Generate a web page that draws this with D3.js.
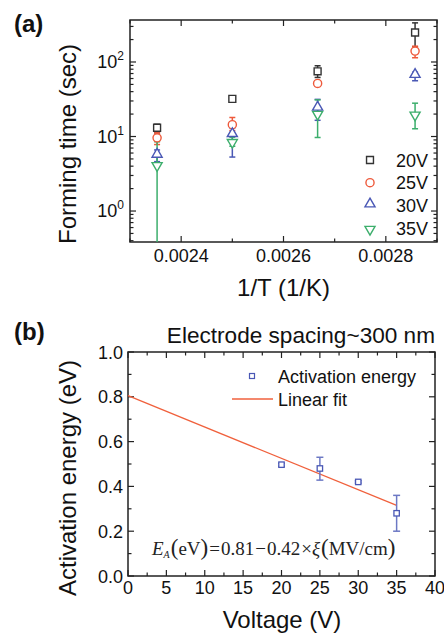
<!DOCTYPE html>
<html><head><meta charset="utf-8">
<script src="https://cdn.jsdelivr.net/npm/d3@7"></script>
<style>body{margin:0;background:#fff}svg{display:block}text{font-family:"Liberation Sans",Arial,sans-serif}</style>
</head><body><svg id="c" width="444" height="635"></svg>
<script>
// ---------- Panel (a) data ----------
const invT = [1/425, 1/400, 1/375, 1/350];
const seriesNames = ["20V", "25V", "30V", "35V"];
const t20 = [13.1, 32, 75, 249];
const t20lo = [11.2, 30, 62, 160];
const t20hi = [14.6, 33.5, 89, 335];
const t25 = [9.6, 14.4, 51.5, 140];
const t25lo = [7.8, 12, 47, 114];
const t25hi = [11.2, 18, 56, 163];
const t30 = [5.6, 10.6, 24, 66];
const t30lo = [4.6, 5.3, 16.5, 56];
const t30hi = [6.6, 13, 31.5, 73];
const t35 = [4.2, 8.6, 20.5, 20];
const t35lo = [0.01, 7.4, 9.7, 12.7];
const t35hi = [8.5, 9.8, 31, 28];
const xTicksA = [0.0024, 0.0026, 0.0028];
const xMinorA = [0.0023, 0.0025, 0.0027, 0.0029];
const yTicksA = [1, 10, 100];
const yTickExpA = ["0", "1", "2"];

// ---------- Panel (b) data ----------
const voltage = [20, 25, 30, 35];
const energy = [0.497, 0.48, 0.42, 0.28];
const energyLo = [0.49, 0.428, 0.415, 0.20];
const energyHi = [0.503, 0.53, 0.425, 0.36];
const fitV = [0, 35];
const fitE = [0.805, 0.315];
const xTicksB = [0, 5, 10, 15, 20, 25, 30, 35, 40];
const yTicksB = [0.0, 0.2, 0.4, 0.6, 0.8, 1.0];

const colors = ["#333333", "#ee5a3c", "#4a58b5", "#3cae6c"];
const svg = d3.select("#c");
const frameCol = "#222";

// ================= Panel (a) =================
const A = {l:130, r:437, t:20, b:242};
const xA = d3.scaleLinear().domain([0.0023, 0.0029]).range([A.l, A.r]);
const yA = d3.scaleLog().domain([0.384, 366]).range([A.b, A.t]);

const gA = svg.append("g");
svg.append("clipPath").attr("id","clipA").append("rect")
  .attr("x",A.l).attr("y",A.t).attr("width",A.r-A.l).attr("height",A.b-A.t);

function tickLinesX(g, scale, vals, len, top, bottom){
  vals.forEach(v=>{
    g.append("line").attr("x1",scale(v)).attr("x2",scale(v)).attr("y1",bottom).attr("y2",bottom-len).attr("stroke",frameCol).attr("stroke-width",1.2);
    g.append("line").attr("x1",scale(v)).attr("x2",scale(v)).attr("y1",top).attr("y2",top+len).attr("stroke",frameCol).attr("stroke-width",1.2);
  });
}
function tickLinesY(g, scale, vals, len, left, right){
  vals.forEach(v=>{
    g.append("line").attr("y1",scale(v)).attr("y2",scale(v)).attr("x1",left).attr("x2",left+len).attr("stroke",frameCol).attr("stroke-width",1.2);
    g.append("line").attr("y1",scale(v)).attr("y2",scale(v)).attr("x1",right).attr("x2",right-len).attr("stroke",frameCol).attr("stroke-width",1.2);
  });
}
tickLinesX(gA, xA, xTicksA, 6, A.t, A.b);
tickLinesX(gA, xA, xMinorA, 3.5, A.t, A.b);
tickLinesY(gA, yA, yTicksA, 6, A.l, A.r);
const minorA = [];
[0.1,1,10,100].forEach(d=>{for(let k=2;k<=9;k++){const v=d*k; if(v>0.384&&v<366) minorA.push(v);}});
tickLinesY(gA, yA, minorA, 3.5, A.l, A.r);

gA.append("rect").attr("x",A.l).attr("y",A.t).attr("width",A.r-A.l).attr("height",A.b-A.t)
  .attr("fill","none").attr("stroke",frameCol).attr("stroke-width",1.5);

xTicksA.forEach(v=>{
  gA.append("text").attr("x",xA(v)).attr("y",262).attr("text-anchor","middle").attr("font-size",18).attr("fill","#111").text(d3.format(".4f")(v));
});
yTicksA.forEach((v,i)=>{
  const t = gA.append("text").attr("x",124).attr("y",yA(v)+6).attr("text-anchor","end").attr("font-size",18).attr("fill","#111");
  t.append("tspan").text("10");
  t.append("tspan").attr("dy",-8).attr("font-size",12).text(yTickExpA[i]);
});
gA.append("text").attr("x",(A.l+A.r)/2).attr("y",296).attr("text-anchor","middle").attr("font-size",24).attr("fill","#111").text("1/T (1/K)");
gA.append("text").attr("transform",`translate(76,${(A.t+A.b)/2+13}) rotate(-90)`).attr("text-anchor","middle").attr("font-size",24).attr("fill","#111").text("Forming time (sec)");
svg.append("text").attr("x",14).attr("y",32).attr("font-size",24).attr("font-weight","bold").attr("fill","#111").text("(a)");

const sym = [d3.symbolSquare, d3.symbolCircle, d3.symbolTriangle, d3.symbolTriangle];
const symSize = [48, 52, 44, 44];
function marker(g, i, x, y){
  const p = g.append("path").attr("d", d3.symbol().type(sym[i]).size(symSize[i])())
    .attr("fill","#fff").attr("stroke",colors[i]).attr("stroke-width",1.4);
  let tr = `translate(${x},${y})`;
  if(i===2) tr += " translate(0,-1)";
  if(i===3) tr += " translate(0,1) rotate(180)";
  p.attr("transform",tr);
}
const seriesA = [[t20,t20lo,t20hi],[t25,t25lo,t25hi],[t30,t30lo,t30hi],[t35,t35lo,t35hi]];
const dataG = gA.append("g").attr("clip-path","url(#clipA)");
seriesA.forEach((s,i)=>{
  s[0].forEach((v,j)=>{
    const x = xA(invT[j]);
    dataG.append("line").attr("x1",x).attr("x2",x).attr("y1",yA(s[1][j])).attr("y2",yA(s[2][j])).attr("stroke",colors[i]).attr("stroke-width",1.5);
    [s[1][j], s[2][j]].forEach(e=>{
      dataG.append("line").attr("x1",x-3).attr("x2",x+3).attr("y1",yA(e)).attr("y2",yA(e)).attr("stroke",colors[i]).attr("stroke-width",1.5);
    });
  });
});
seriesA.forEach((s,i)=>{
  s[0].forEach((v,j)=>marker(dataG, i, xA(invT[j]), yA(v)));
});
const legY = [160, 182.7, 205, 228.3];
seriesNames.forEach((n,i)=>{
  marker(gA, i, 370, legY[i]);
  gA.append("text").attr("x",396).attr("y",legY[i]+6.5).attr("font-size",18).attr("fill","#111").text(n);
});

// ================= Panel (b) =================
const B = {l:128, r:435, t:352, b:576};
const xB = d3.scaleLinear().domain([0, 40]).range([B.l, B.r]);
const yB = d3.scaleLinear().domain([0, 1]).range([B.b, B.t]);
const gB = svg.append("g");
tickLinesX(gB, xB, xTicksB, 6, B.t, B.b);
tickLinesX(gB, xB, d3.range(2.5, 40, 5), 3.5, B.t, B.b);
tickLinesY(gB, yB, yTicksB, 6, B.l, B.r);
tickLinesY(gB, yB, d3.range(0.1, 1, 0.2), 3.5, B.l, B.r);
gB.append("rect").attr("x",B.l).attr("y",B.t).attr("width",B.r-B.l).attr("height",B.b-B.t)
  .attr("fill","none").attr("stroke",frameCol).attr("stroke-width",1.5);
xTicksB.forEach(v=>{
  gB.append("text").attr("x",xB(v)).attr("y",594).attr("text-anchor","middle").attr("font-size",18).attr("fill","#111").text(v);
});
yTicksB.forEach(v=>{
  gB.append("text").attr("x",123).attr("y",yB(v)+6.5).attr("text-anchor","end").attr("font-size",18).attr("fill","#111").text(d3.format(".1f")(v));
});
gB.append("text").attr("x",282).attr("y",628).attr("text-anchor","middle").attr("font-size",24).attr("fill","#111").text("Voltage (V)");
gB.append("text").attr("transform",`translate(76,${(B.t+B.b)/2+14}) rotate(-90)`).attr("text-anchor","middle").attr("font-size",24).attr("fill","#111").text("Activation energy (eV)");
gB.append("text").attr("x",435).attr("y",343).attr("text-anchor","end").attr("font-size",22.6).attr("fill","#111").text("Electrode spacing~300 nm");
svg.append("text").attr("x",14).attr("y",340).attr("font-size",24).attr("font-weight","bold").attr("fill","#111").text("(b)");

gB.append("path").datum(fitV.map((v,i)=>[v,fitE[i]]))
  .attr("d", d3.line().x(d=>xB(d[0])).y(d=>yB(d[1])))
  .attr("fill","none").attr("stroke","#f0603c").attr("stroke-width",1.3);
const blue = "#4a58b5";
voltage.forEach((v,i)=>{
  const x = xB(v);
  gB.append("line").attr("x1",x).attr("x2",x).attr("y1",yB(energyLo[i])).attr("y2",yB(energyHi[i])).attr("stroke","#6c78c4").attr("stroke-width",1.5);
  [energyLo[i], energyHi[i]].forEach(e=>{
    gB.append("line").attr("x1",x-3.5).attr("x2",x+3.5).attr("y1",yB(e)).attr("y2",yB(e)).attr("stroke","#6c78c4").attr("stroke-width",1.5);
  });
  gB.append("rect").attr("x",x-2.7).attr("y",yB(energy[i])-2.7).attr("width",5.4).attr("height",5.4)
    .attr("fill","#fff").attr("stroke",blue).attr("stroke-width",1.3);
});
gB.append("rect").attr("x",252-2.5).attr("y",376-2.5).attr("width",5).attr("height",5).attr("fill","#fff").attr("stroke",blue).attr("stroke-width",1.2);
gB.append("text").attr("x",278).attr("y",383).attr("font-size",18).attr("fill","#111").text("Activation energy");
gB.append("line").attr("x1",232).attr("x2",273).attr("y1",399).attr("y2",399).attr("stroke","#f0603c").attr("stroke-width",1.3);
gB.append("text").attr("x",278).attr("y",405.5).attr("font-size",18).attr("fill","#111").text("Linear fit");

// equation
const eq = gB.append("text").attr("x",152).attr("y",555).attr("font-size",19).attr("fill","#222")
  .style("font-family","'Liberation Serif','Times New Roman',serif");
eq.append("tspan").attr("font-style","italic").text("E");
eq.append("tspan").attr("font-style","italic").attr("font-size",10).attr("dy",3).text("A");
eq.append("tspan").attr("dy",-3).attr("font-size",23).attr("dx",1).text("(");
eq.append("tspan").text("eV");
eq.append("tspan").attr("font-size",23).text(")");
eq.append("tspan").attr("dx",1).text("=");
eq.append("tspan").attr("dx",1).text("0.81");
eq.append("tspan").attr("dx",1).text("\u2212");
eq.append("tspan").attr("dx",1).text("0.42");
eq.append("tspan").attr("dx",1).text("\u00d7");
eq.append("tspan").attr("font-style","italic").text("\u03be");
eq.append("tspan").attr("font-size",23).attr("dx",1).text("(");
eq.append("tspan").text("MV/cm");
eq.append("tspan").attr("font-size",23).text(")");
</script></body></html>
